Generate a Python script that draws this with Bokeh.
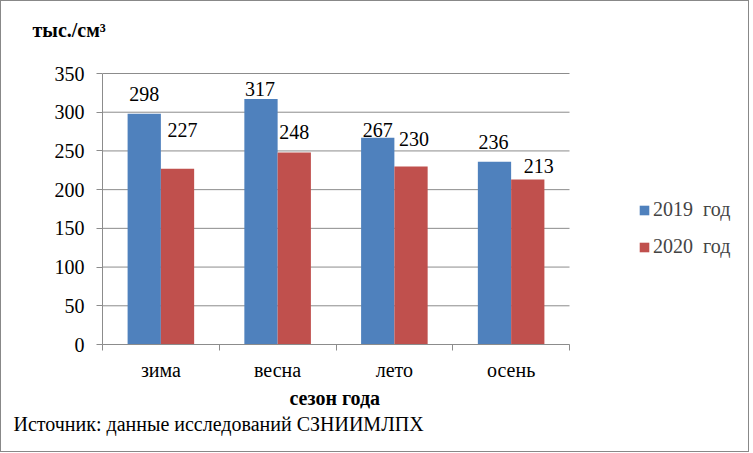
from bokeh.plotting import figure
from bokeh.models import (ColumnDataSource, Range1d, FixedTicker, LabelSet, Title,
                          Legend, LegendItem)
from bokeh.embed import file_html
from bokeh.resources import INLINE
import numpy as np

# ---- data ----
seasons = ["зима", "весна", "лето", "осень"]
series_names = ["2019  год", "2020  год"]
values_2019 = [298, 317, 267, 236]
values_2020 = [227, 248, 230, 213]
y_ticks = [0, 50, 100, 150, 200, 250, 300, 350]

# label nudges (px) to mimic manual placement in the source
nudge_2019_dx = [0, -1, 0, -1]
nudge_2019_dy = [20, 10, 8, 20]
nudge_2020_dx = [5, 0, 3, 11]
nudge_2020_dy = [39, 20, 27, 14]

BLUE = "#4F81BD"
RED = "#C0504D"
GRID = "#8c8c8c"
SERIF = "Liberation Serif"
FS = "20px"

W, H = 749, 452
AX0, AX1, AY1, AY0 = 101, 568, 72, 343   # axes box in page px
TOP = 50                                  # frame top (page px)
NCAT = len(seasons)
YMAX = y_ticks[-1]
x_end = NCAT * (W - AX0) / (AX1 - AX0)
y_end = YMAX * (AY0 - TOP) / (AY0 - AY1)

p = figure(width=W, height=H, output_backend="svg", toolbar_location=None,
           x_range=Range1d(0, x_end), y_range=Range1d(0, y_end),
           min_border_left=AX0, min_border_right=0, min_border_top=TOP,
           min_border_bottom=H - AY0)
p.styles = {"border": "1px solid #888888"}
p.outline_line_color = None
p.grid.grid_line_color = None

# horizontal gridlines limited to the category span
p.segment(x0=[0] * len(y_ticks), x1=[NCAT] * len(y_ticks), y0=y_ticks, y1=y_ticks,
          line_color=GRID, line_width=1)

xc = np.arange(NCAT) + 0.5
bw = 0.285
src1 = ColumnDataSource(dict(x=xc - bw / 2, top=values_2019, text=[str(v) for v in values_2019],
                             xo=nudge_2019_dx, yo=nudge_2019_dy))
src2 = ColumnDataSource(dict(x=xc + bw / 2, top=values_2020, text=[str(v) for v in values_2020],
                             xo=nudge_2020_dx, yo=nudge_2020_dy))
r1 = p.vbar(x="x", top="top", width=bw, source=src1, fill_color=BLUE, line_color=None)
r2 = p.vbar(x="x", top="top", width=bw, source=src2, fill_color=RED, line_color=None)

for s in (src1, src2):
    p.add_layout(LabelSet(x="x", y="top", text="text", source=s, x_offset="xo", y_offset="yo",
                          text_align="center", text_baseline="middle",
                          text_font=SERIF, text_font_size=FS, text_color="#000000"))

# axes
p.yaxis.bounds = (0, YMAX)
p.yaxis.ticker = FixedTicker(ticks=y_ticks)
p.yaxis.axis_line_color = GRID
p.yaxis.major_tick_line_color = GRID
p.yaxis.major_tick_out = 6
p.yaxis.major_tick_in = 0
p.yaxis.minor_tick_line_color = None
p.yaxis.major_label_text_font = SERIF
p.yaxis.major_label_text_font_size = FS
p.yaxis.major_label_text_color = "#000000"
p.yaxis.major_label_standoff = 12

p.xaxis.bounds = (0, NCAT)
p.xaxis.ticker = FixedTicker(ticks=list(xc), minor_ticks=list(range(NCAT + 1)))
p.xaxis.major_label_overrides = {float(x): s for x, s in zip(xc, seasons)}
p.xaxis.axis_line_color = GRID
p.xaxis.major_tick_line_color = None
p.xaxis.major_tick_out = 0
p.xaxis.major_tick_in = 0
p.xaxis.minor_tick_line_color = GRID
p.xaxis.minor_tick_out = 6
p.xaxis.minor_tick_in = 0
p.xaxis.major_label_text_font = SERIF
p.xaxis.major_label_text_font_size = FS
p.xaxis.major_label_text_color = "#000000"
p.xaxis.major_label_standoff = 8

# units label (top-left), axis title and source note as titles in side panels
p.add_layout(Title(text="тыс./см³", align="left", offset=31 - AX0, standoff=22,
                   text_font=SERIF, text_font_style="bold", text_font_size=FS,
                   text_color="#000000"), "above")
p.add_layout(Title(text="сезон года", align="left", offset=288 - AX0,
                   standoff=2, text_font=SERIF, text_font_style="bold",
                   text_font_size=FS, text_color="#000000"), "below")
p.add_layout(Title(text="Источник: данные исследований СЗНИИМЛПХ", align="left",
                   offset=12 - AX0, standoff=3, text_font=SERIF, text_font_style="normal",
                   text_font_size=FS, text_color="#000000"), "below")

# legend inside the (extended) frame
legend = Legend(items=[LegendItem(label=series_names[0], renderers=[r1]),
                       LegendItem(label=series_names[1], renderers=[r2])],
                location=(637 - AX0, AY0 - 257), orientation="vertical",
                glyph_width=12, glyph_height=12, label_standoff=3, spacing=14,
                label_text_font=SERIF, label_text_font_size=FS, label_height=23,
                border_line_color=None, background_fill_alpha=0, padding=0, margin=0)
p.add_layout(legend)

open("out.html", "w").write(file_html(p, INLINE))
